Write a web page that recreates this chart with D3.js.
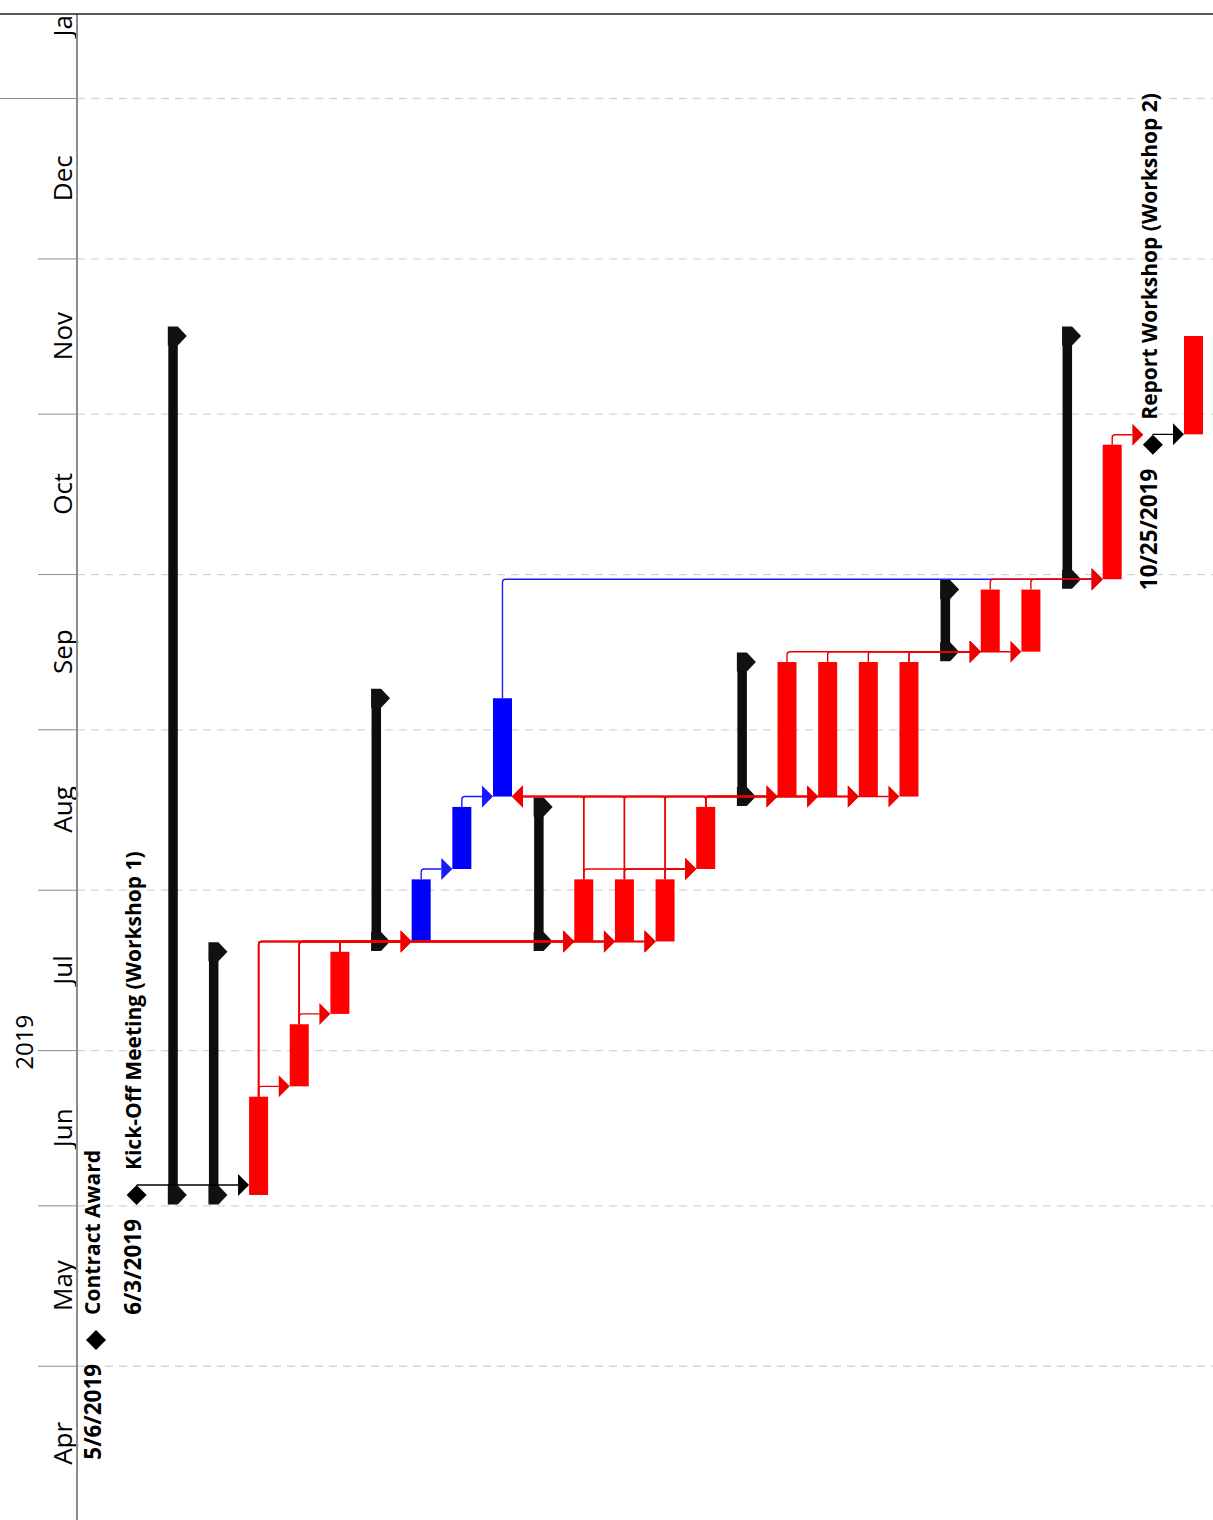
<!DOCTYPE html>
<html>
<head>
<meta charset="utf-8">
<script src="https://cdn.jsdelivr.net/npm/d3@7"></script>
<style>
  body { margin: 0; background: #fff; }
  svg { display: block; font-family: "Open Sans", sans-serif; }
</style>
</head>
<body>
<svg id="chart"></svg>
<script>
// timescale
let monthStarts = ["2019-04-01", "2019-05-01", "2019-06-01", "2019-07-01", "2019-08-01", "2019-09-01",
  "2019-10-01", "2019-11-01", "2019-12-01", "2020-01-01", "2020-02-01"];
let monthLabels = ["Apr", "May", "Jun", "Jul", "Aug", "Sep", "Oct", "Nov", "Dec", "Jan"];
let yearLabel = "2019";
let yearSpan = ["2019-01-01", "2020-01-01"];

// one column per task, outline order
let taskIds = d3.range(1, 29);
let taskTypes = ["milestone", "milestone", "summary", "summary", "task", "task", "task", "summary",
  "task", "task", "task", "summary", "task", "task", "task", "task", "summary", "task", "task", "task",
  "task", "summary", "task", "task", "summary", "task", "milestone", "task"];
let taskStarts = ["2019-05-06", "2019-06-03", "2019-06-03", "2019-06-03", "2019-06-03", "2019-06-24",
  "2019-07-08", "2019-07-22", "2019-07-22", "2019-08-05", "2019-08-19", "2019-07-22", "2019-07-22",
  "2019-07-22", "2019-07-22", "2019-08-05", "2019-08-19", "2019-08-19", "2019-08-19", "2019-08-19",
  "2019-08-19", "2019-09-16", "2019-09-16", "2019-09-16", "2019-09-30", "2019-09-30", "2019-10-25",
  "2019-10-28"];
let taskFinishes = ["2019-05-06", "2019-06-03", "2019-11-15", "2019-07-19", "2019-06-21", "2019-07-05",
  "2019-07-19", "2019-09-06", "2019-08-02", "2019-08-16", "2019-09-06", "2019-08-16", "2019-08-02",
  "2019-08-02", "2019-08-02", "2019-08-16", "2019-09-13", "2019-09-13", "2019-09-13", "2019-09-13",
  "2019-09-13", "2019-09-27", "2019-09-27", "2019-09-27", "2019-11-15", "2019-10-25", "2019-10-25",
  "2019-11-15"];
let taskColors = ["black", "black", "black", "black", "red", "red", "red", "black", "blue", "blue", "blue",
  "black", "red", "red", "red", "red", "black", "red", "red", "red", "red", "black", "red", "red", "black",
  "red", "black", "red"];
let taskNames = ["Contract Award", "Kick-Off Meeting (Workshop 1)", "", "", "", "", "", "", "", "", "", "",
  "", "", "", "", "", "", "", "", "", "", "", "", "", "", "Report Workshop (Workshop 2)", ""];

// finish-to-start links [predecessor, successor]
let links = [
  [11, 26], [9, 10], [10, 11],
  [2, 5], [27, 28],
  [5, 6], [6, 7],
  [5, 9], [6, 9], [7, 9], [5, 13], [6, 13], [7, 13], [5, 14], [6, 14], [7, 14], [5, 15], [6, 15], [7, 15],
  [13, 16], [14, 16], [15, 16],
  [13, 11], [14, 11], [15, 11], [16, 11],
  [13, 18], [14, 19], [15, 20], [16, 18], [16, 19], [16, 20], [16, 21],
  [18, 23], [19, 23], [20, 23], [21, 23], [21, 24],
  [23, 26], [24, 26],
  [26, 27]
];

let width = 1213;
let height = 1520;
let headerRight = 77;
let topLine = 14;

let palette = { red: "#ff0000", blue: "#0000ff", black: "#0d0d0d" };
let linkPalette = { red: "#ee0000", blue: "#1a1aff", black: "#000000" };

let parseDate = d3.utcParse("%Y-%m-%d");
let fmtDate = d3.utcFormat("%-m/%-d/%Y");
let endOfDay = (s) => d3.utcDay.offset(parseDate(s), 1);

let svg = d3.select("#chart").attr("width", width).attr("height", height);

let yScale = d3.scaleUtc()
  .domain([parseDate("2019-04-01"), parseDate("2020-01-01")])
  .range([1521, 98]);

let xScale = d3.scalePoint()
  .domain(taskIds)
  .range([96, 1193.5]);

let tasks = taskIds.map((id, i) => ({
  id: id,
  type: taskTypes[i],
  start: parseDate(taskStarts[i]),
  finish: endOfDay(taskFinishes[i]),
  color: taskColors[i],
  name: taskNames[i],
  label: fmtDate(parseDate(taskStarts[i]))
}));
let byId = new Map(tasks.map((t) => [t.id, t]));
// a milestone that follows a task sits at that task's finish
links.forEach(([p, s]) => {
  let t = byId.get(s);
  if (t.type === "milestone" && byId.get(p).type !== "milestone") t.atEnd = true;
});
tasks.forEach((t) => {
  if (t.type === "milestone") t.when = t.atEnd ? t.finish : t.start;
});

svg.append("defs").append("clipPath").attr("id", "plot")
  .append("rect").attr("x", 0).attr("y", topLine).attr("width", width).attr("height", height - topLine);

let root = svg.append("g").attr("clip-path", "url(#plot)");

let monthDates = monthStarts.map(parseDate);

// dashed month gridlines
root.append("g")
  .attr("transform", "translate(" + headerRight + ",0)")
  .call(d3.axisRight(yScale).tickValues(monthDates.slice(1, -1)).tickSize(width - headerRight).tickFormat(""))
  .call((g) => g.select(".domain").remove())
  .selectAll("line")
  .attr("stroke", "#d6d6d6")
  .attr("stroke-width", 1.3)
  .attr("stroke-dasharray", "8,6");

// timescale header
let header = root.append("g")
  .attr("transform", "translate(" + headerRight + ",0)")
  .call(d3.axisLeft(yScale).tickValues(monthDates.slice(1, -1)).tickSize(39).tickFormat(""))
  .call((g) => g.select(".domain").remove());
header.selectAll("line")
  .attr("stroke", "#8c8c8c")
  .attr("x2", (d) => (d.getUTCMonth() === 0 ? -headerRight : -39));

root.append("g")
  .selectAll("text")
  .data(monthLabels)
  .join("text")
  .attr("transform", (d, i) => {
    let mid = new Date((monthDates[i].getTime() + monthDates[i + 1].getTime()) / 2);
    return "translate(72," + yScale(mid) + ") rotate(-90)";
  })
  .attr("text-anchor", "middle")
  .attr("font-size", 26)
  .attr("fill", "#000")
  .text((d) => d);

let yearMid = new Date((parseDate(yearSpan[0]).getTime() + parseDate(yearSpan[1]).getTime()) / 2);
root.append("text")
  .attr("transform", "translate(33," + yScale(yearMid) + ") rotate(-90)")
  .attr("text-anchor", "middle")
  .attr("font-size", 24)
  .attr("fill", "#000")
  .text(yearLabel);

root.append("line")
  .attr("x1", headerRight).attr("x2", headerRight)
  .attr("y1", topLine).attr("y2", height)
  .attr("stroke", "#8c8c8c").attr("stroke-width", 2);

// summary bars
let summaries = tasks.filter((t) => t.type === "summary");
let sumG = root.append("g");
sumG.selectAll("rect")
  .data(summaries)
  .join("rect")
  .attr("x", (d) => xScale(d.id) - 9)
  .attr("width", 9.5)
  .attr("y", (d) => yScale(d.finish))
  .attr("height", (d) => yScale(d.start) - yScale(d.finish))
  .attr("fill", palette.black);

let capPath = (cx, cy) =>
  "M" + (cx - 9.5) + "," + (cy - 9.5) + "H" + (cx + 0.5) + "L" + (cx + 9.5) + "," + cy +
  "L" + (cx + 0.5) + "," + (cy + 9.5) + "H" + (cx - 9.5) + "Z";

sumG.selectAll("path")
  .data(summaries.flatMap((d) => [{ id: d.id, at: d.start }, { id: d.id, at: d.finish }]))
  .join("path")
  .attr("d", (d) => capPath(xScale(d.id), yScale(d.at)))
  .attr("fill", "#111");

// task bars
root.append("g")
  .selectAll("rect")
  .data(tasks.filter((t) => t.type === "task"))
  .join("rect")
  .attr("x", (d) => xScale(d.id) - 9.5)
  .attr("width", 19)
  .attr("y", (d) => yScale(d.finish))
  .attr("height", (d) => yScale(d.start) - yScale(d.finish))
  .attr("fill", (d) => palette[d.color]);

// milestones
let milestones = tasks.filter((t) => t.type === "milestone");
root.append("g")
  .selectAll("path")
  .data(milestones)
  .join("path")
  .attr("d", (d) => {
    let cx = xScale(d.id), cy = yScale(d.when);
    return "M" + cx + "," + (cy - 10) + "L" + (cx + 10) + "," + cy + "L" + cx + "," + (cy + 10) +
      "L" + (cx - 10) + "," + cy + "Z";
  })
  .attr("fill", "#000");

let msLabels = root.append("g")
  .attr("font-weight", "bold")
  .attr("fill", "#000");
msLabels.selectAll("text.date")
  .data(milestones)
  .join("text")
  .attr("class", "date")
  .attr("font-size", 22.5)
  .attr("transform", (d) => "translate(" + (xScale(d.id) + 4.5) + "," + (yScale(d.when) + 24) + ") rotate(-90)")
  .attr("text-anchor", "end")
  .text((d) => d.label);
msLabels.selectAll("text.name")
  .data(milestones)
  .join("text")
  .attr("class", "name")
  .attr("font-size", 21)
  .attr("transform", (d) => "translate(" + (xScale(d.id) + 4) + "," + (yScale(d.when) - 25) + ") rotate(-90)")
  .attr("text-anchor", "start")
  .text((d) => d.name);

// dependency links
function linkGeom(pair) {
  let p = byId.get(pair[0]);
  let s = byId.get(pair[1]);
  let px = xScale(p.id);
  let pRef = p.type === "milestone" ? yScale(p.when) : yScale(p.finish);
  let py = p.type === "milestone" ? pRef - 10 : pRef;
  let sy = s.type === "milestone" ? yScale(s.when) : yScale(s.start);
  let ly = Math.min(sy, pRef - 10);
  let dir = xScale(s.id) > px ? 1 : -1;
  let tip = xScale(s.id) - dir * 9.5;
  let base = tip - dir * 11;
  let r = Math.min(3, Math.max(py - ly, 0));
  let line = "M" + px + "," + py + "V" + (ly + r) + "Q" + px + "," + ly + " " + (px + dir * r) + "," + ly +
    "H" + base;
  let head = "M" + tip + "," + ly + "L" + base + "," + (ly - 11) + "L" + base + "," + (ly + 11) + "Z";
  return { line: line, head: head, color: linkPalette[p.color] };
}

let linkData = links.map(linkGeom);
let linkG = root.append("g");
linkData.forEach((d) => {
  linkG.append("path").attr("d", d.line).attr("fill", "none").attr("stroke", d.color).attr("stroke-width", 1.4);
  linkG.append("path").attr("d", d.head).attr("fill", d.color);
});

// top border
svg.append("line")
  .attr("x1", 0).attr("x2", width)
  .attr("y1", topLine).attr("y2", topLine)
  .attr("stroke", "#222").attr("stroke-width", 1.5);
</script>
</body>
</html>
